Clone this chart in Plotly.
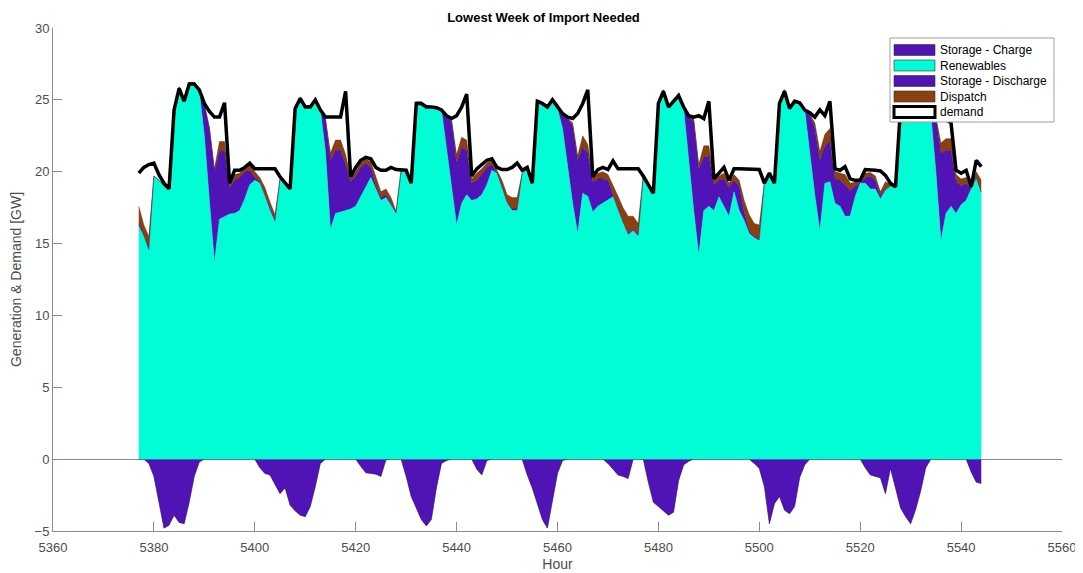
import plotly.graph_objects as go

# hourly data, hours 5377-5544 (one week)
hours = list(range(5377, 5545))

demand = [
    19.9, 20.3, 20.5, 20.6, 19.8, 19.2, 18.8, 24.3, 25.8, 24.9, 26.1, 26.1,
    25.7, 24.75, 24.2, 23.8, 23.8, 24.8, 19.2, 20.1, 20.1, 20.3, 20.6, 20.2,
    20.2, 20.2, 20.2, 20.2, 19.65, 19.2, 18.8, 24.4, 25.1, 24.5, 24.5, 25.0,
    24.3, 23.8, 23.8, 23.8, 23.8, 25.6, 19.65, 20.3, 20.8, 21.0, 20.9, 20.3,
    20.1, 20.1, 20.3, 20.15, 20.15, 20.1, 19.2, 24.75, 24.75, 24.5, 24.5, 24.45,
    24.3, 23.9, 23.7, 23.9, 24.5, 25.4, 19.7, 20.2, 20.5, 20.8, 20.9, 20.3,
    20.15, 20.15, 20.3, 20.6, 20.1, 20.3, 19.2, 24.9, 24.75, 24.5, 25.0, 24.5,
    24.05, 23.8, 23.7, 24.05, 24.75, 25.7, 19.65, 20.15, 20.3, 20.15, 20.75, 20.2,
    20.2, 20.2, 20.2, 20.2, 19.7, 19.1, 18.5, 24.75, 25.6, 24.5, 24.9, 25.3,
    24.5, 23.9, 23.8, 23.9, 23.7, 24.9, 19.5, 19.9, 20.3, 19.4, 20.2, 20.2,
    20.2, 20.2, 20.2, 20.15, 19.2, 19.9, 19.2, 24.75, 25.6, 24.4, 24.9, 24.8,
    24.3, 24.1, 23.8, 24.3, 23.9, 24.9, 20.2, 20.1, 20.35, 19.5, 19.4, 19.4,
    20.15, 20.15, 20.1, 20.05, 19.75, 19.2, 18.95, 24.5, 25.4, 25.0, 25.3, 24.8,
    24.5, 24.2, 23.9, 23.8, 23.6, 23.4, 20.1, 19.9, 20.1, 18.95, 20.8, 20.35,
]

renewables = [
    16.2, 15.5, 14.5, 19.7, 19.4, 19.0, 18.8, 24.4, 25.9, 25.0, 26.2, 26.2,
    25.6, 22.5, 18.0, 13.7, 16.7, 16.9, 17.05, 17.1, 17.3, 18.1, 19.1, 19.4,
    19.2, 18.3, 17.3, 16.5, 19.5, 19.2, 18.8, 24.5, 25.2, 24.6, 24.6, 25.1,
    24.3, 21.4, 16.0, 17.1, 17.2, 17.3, 17.4, 17.6, 18.3, 19.0, 19.6, 18.8,
    18.0, 18.2, 17.6, 17.1, 20.1, 20.0, 19.2, 24.85, 24.85, 24.6, 24.55, 24.5,
    24.3, 21.6, 19.0, 16.3, 17.8, 18.4, 18.0, 18.1, 18.4, 19.1, 20.1, 19.9,
    18.9, 17.8, 17.3, 17.3, 19.9, 20.2, 19.2, 25.0, 24.85, 24.6, 25.0, 24.4,
    23.0, 20.3, 17.8, 15.7, 18.5, 18.3, 17.2, 17.6, 17.8, 18.0, 18.25, 17.3,
    16.4, 15.6, 15.9, 15.5, 19.7, 19.1, 18.5, 24.85, 25.7, 24.6, 25.0, 25.35,
    24.4, 20.8, 17.3, 14.2, 17.3, 17.6, 17.3, 18.25, 17.6, 16.9, 18.6, 17.3,
    16.6, 15.7, 15.4, 15.2, 19.2, 19.8, 19.2, 24.85, 25.7, 24.5, 25.0, 24.85,
    24.3, 21.3, 18.4, 15.9, 19.2, 19.3, 17.8, 17.6, 16.9, 16.9, 18.25, 19.2,
    19.2, 18.8, 18.8, 18.1, 18.7, 19.0, 18.95, 24.6, 25.5, 25.1, 25.4, 24.9,
    24.5, 24.0, 20.0, 15.2, 17.1, 17.6, 17.1, 17.7, 18.0, 18.8, 19.5, 18.5,
]

discharge = [
    0.2, 0.1, 0.1, 0, 0, 0, 0, 0, 0, 0, 0, 0,
    0, 2.2, 5.0, 6.3, 4.7, 4.6, 1.85, 2.3, 2.3, 1.9, 1.0, 0.2,
    0.1, 0.1, 0.1, 0.1, 0, 0, 0, 0, 0, 0, 0, 0,
    0, 2.3, 4.8, 4.4, 4.3, 3.2, 1.9, 2.1, 2.0, 1.6, 0.7, 0.2,
    0.2, 0.2, 0.2, 0.05, 0, 0, 0, 0, 0, 0, 0, 0,
    0, 2.3, 4.5, 4.3, 3.9, 3.1, 1.2, 1.3, 1.4, 1.2, 0.4, 0.05,
    0.1, 0.1, 0.1, 0.1, 0, 0, 0, 0, 0, 0, 0, 0,
    1.0, 3.4, 5.4, 5.1, 3.2, 3.0, 2.1, 1.9, 1.7, 1.4, 0.15, 0.1,
    0.1, 0.1, 0.1, 0.1, 0, 0, 0, 0, 0, 0, 0, 0,
    0, 3.0, 6.2, 6.0, 3.7, 3.5, 1.8, 1.15, 1.9, 2.0, 0.8, 1.7,
    0.6, 0.2, 0.1, 0.1, 0, 0, 0, 0, 0, 0, 0, 0,
    0, 2.7, 4.6, 4.9, 2.6, 2.8, 1.7, 1.8, 2.2, 1.8, 0.75, 0.05,
    0.4, 0.9, 0.6, 0.2, 0.1, 0, 0, 0, 0, 0, 0, 0,
    0, 0, 3.8, 6.1, 4.4, 3.9, 2.2, 1.3, 1.2, 0.05, 0.1, 0.1,
]

dispatch = [
    1.2, 0.7, 0.9, 0, 0, 0, 0, 0, 0, 0, 0, 0,
    0, 0, 0.1, 0.2, 0.7, 0.6, 0.3, 0.4, 0.3, 0.3, 0.4, 0.4,
    0.3, 0.5, 0.5, 0.4, 0, 0, 0, 0, 0, 0, 0, 0,
    0, 0, 0.5, 0.7, 0.7, 0.7, 0.3, 0.3, 0.3, 0.3, 0.4, 0.6,
    0.4, 0.4, 0.4, 0.1, 0, 0, 0, 0, 0, 0, 0, 0,
    0, 0, 0.1, 0.6, 0.7, 0.7, 0.3, 0.5, 0.4, 0.3, 0.3, 0.15,
    0.4, 0.5, 0.8, 0.8, 0, 0, 0, 0, 0, 0, 0, 0,
    0, 0, 0.2, 0.3, 0.8, 0.6, 0.3, 0.4, 0.5, 0.4, 0.7, 0.9,
    1.0, 1.2, 0.9, 0.8, 0, 0, 0, 0, 0, 0, 0, 0,
    0, 0, 0.2, 0.3, 0.8, 0.7, 0.3, 0.3, 0.4, 0.3, 0.4, 0.4,
    0.8, 1.1, 0.9, 1.0, 0, 0, 0, 0, 0, 0, 0, 0,
    0, 0, 0.4, 0.6, 0.8, 0.9, 0.5, 0.5, 0.7, 0.5, 0.3, 0.1,
    0.3, 0.25, 0.3, 0.3, 0.5, 0.1, 0, 0, 0, 0, 0, 0,
    0, 0, 0, 0.7, 0.8, 0.8, 0.5, 0.5, 0.4, 0.05, 0.4, 0.8,
]

charge = [
    0, 0, -0.3, -1.2, -3.0, -4.8, -4.6, -3.9, -4.4, -4.5, -3.0, -1.2,
    -0.2, 0, 0, 0, 0, 0, 0, 0, 0, 0, 0, 0,
    -0.6, -1.0, -1.1, -1.7, -2.4, -2.0, -3.2, -3.6, -3.9, -4.0, -3.3, -1.9,
    -0.3, 0, 0, 0, 0, 0, 0, 0, -0.5, -0.95, -1.0, -1.05,
    -1.2, -0.05, 0, 0, 0, -1.2, -2.6, -3.4, -4.2, -4.65, -4.2, -2.0,
    -0.3, -0.1, 0, 0, 0, 0, 0, -0.7, -1.1, -0.1, 0, 0,
    0, 0, 0, 0, 0, -1.1, -2.0, -3.1, -4.2, -4.8, -3.0, -1.0,
    -0.1, 0, 0, 0, 0, 0, 0, 0, 0, -0.3, -0.7, -1.1,
    -1.2, -1.35, 0, 0, 0, -1.6, -3.0, -3.3, -3.6, -3.9, -3.7, -1.5,
    -0.4, -0.15, 0, 0, 0, 0, 0, 0, 0, 0, 0, 0,
    0, 0, -0.3, -0.65, -1.9, -4.5, -3.1, -2.6, -3.55, -3.8, -3.3, -1.3,
    -0.4, 0, 0, 0, 0, 0, 0, 0, 0, 0, 0, 0,
    -0.6, -1.1, -1.2, -1.3, -2.4, -0.65, -2.0, -3.4, -4.0, -4.5, -3.5, -2.2,
    -0.6, 0, 0, 0, 0, 0, 0, 0, 0, -0.9, -1.6, -1.7,
]

legend_labels = ['Storage - Charge', 'Renewables', 'Storage - Discharge',
                 'Dispatch', 'demand']

PURPLE = '#5013B5'
CYAN = '#00FDD6'
BROWN = '#8B4010'
EDGE = '#2A0A5E'
FONT = 'Liberation Sans, Arial, sans-serif'

fig = go.Figure()

# storage charging (below zero)
fig.add_trace(go.Scatter(
    x=hours, y=charge, mode='lines', fill='tozeroy',
    line=dict(color=EDGE, width=0.6), fillcolor=PURPLE,
    name=legend_labels[0], showlegend=False
))

# generation stack
fig.add_trace(go.Scatter(
    x=hours, y=renewables, mode='lines', stackgroup='gen',
    line=dict(color=CYAN, width=0.5), fillcolor=CYAN,
    name=legend_labels[1], showlegend=False
))
fig.add_trace(go.Scatter(
    x=hours, y=discharge, mode='lines', stackgroup='gen',
    line=dict(color=EDGE, width=0.4), fillcolor=PURPLE,
    name=legend_labels[2], showlegend=False
))
fig.add_trace(go.Scatter(
    x=hours, y=dispatch, mode='lines', stackgroup='gen',
    line=dict(color='#4A1E05', width=0.4), fillcolor=BROWN,
    name=legend_labels[3], showlegend=False
))

# demand line
fig.add_trace(go.Scatter(
    x=hours, y=demand, mode='lines',
    line=dict(color='black', width=3.5),
    name=legend_labels[4], showlegend=False
))

# page has an 8px body margin, so the figure is sized 8px smaller
W, H = 1075, 565
ML, MR, MT, MB = 45, 21, 20, 42
PW, PH = W - ML - MR, H - MT - MB


# legend drawn MATLAB-style (page pixel -> paper helpers)
def px_x(px):
    return (px - 8 - ML) / PW


def px_y(py):
    return (H - MB - (py - 8)) / PH


shapes = [dict(type='rect', xref='paper', yref='paper',
               x0=px_x(890), x1=px_x(1054), y0=px_y(38), y1=px_y(122),
               line=dict(color='#A0A0A0', width=1), fillcolor='white', layer='above')]
annotations = []
swatch_fill = [PURPLE, CYAN, PURPLE, BROWN, 'white']
row_y = [50, 65.5, 81, 96.5, 112]
for label, fc, cy in zip(legend_labels, swatch_fill, row_y):
    edge = dict(color='black', width=3) if label == 'demand' else dict(color='#303030', width=0.6)
    shapes.append(dict(type='rect', xref='paper', yref='paper',
                       x0=px_x(894), x1=px_x(935), y0=px_y(cy + 5.5), y1=px_y(cy - 5.5),
                       line=edge, fillcolor=fc, layer='above'))
    annotations.append(dict(text=label, xref='paper', yref='paper',
                            x=px_x(938), y=px_y(cy), xanchor='left', yanchor='middle',
                            showarrow=False, font=dict(size=12, color='black', family=FONT)))

fig.update_layout(
    width=W, height=H,
    margin=dict(l=ML, r=MR, t=MT, b=MB),
    paper_bgcolor='white', plot_bgcolor='white',
    font=dict(family=FONT, size=13, color='#4D4D4D'),
    title=dict(text='Lowest Week of Import Needed', x=px_x(543.5), xref='paper',
               y=1 - 9 / H, yref='container', xanchor='center', yanchor='middle',
               font=dict(size=13, color='black', weight='bold')),
    showlegend=False,
    shapes=shapes,
    annotations=annotations,
)

fig.update_xaxes(
    range=[5360, 5560], tick0=5360, dtick=20,
    ticks='inside', ticklen=9, tickcolor='#8C8C8C',
    showline=True, linecolor='#8C8C8C', linewidth=1,
    showgrid=False, zeroline=False, ticklabelstandoff=4, automargin=False,
    title=dict(text='Hour', font=dict(size=14, color='#4D4D4D'), standoff=5)
)
fig.update_yaxes(
    range=[-5, 30], tick0=-5, dtick=5,
    ticks='inside', ticklen=9, tickcolor='#8C8C8C',
    showline=True, linecolor='#8C8C8C', linewidth=1, automargin=False,
    showgrid=False, zeroline=True, zerolinecolor='#8C8C8C', zerolinewidth=1,
    title=dict(text='Generation & Demand [GW]', font=dict(size=14, color='#4D4D4D'), standoff=10)
)

fig.write_html("out.html")
